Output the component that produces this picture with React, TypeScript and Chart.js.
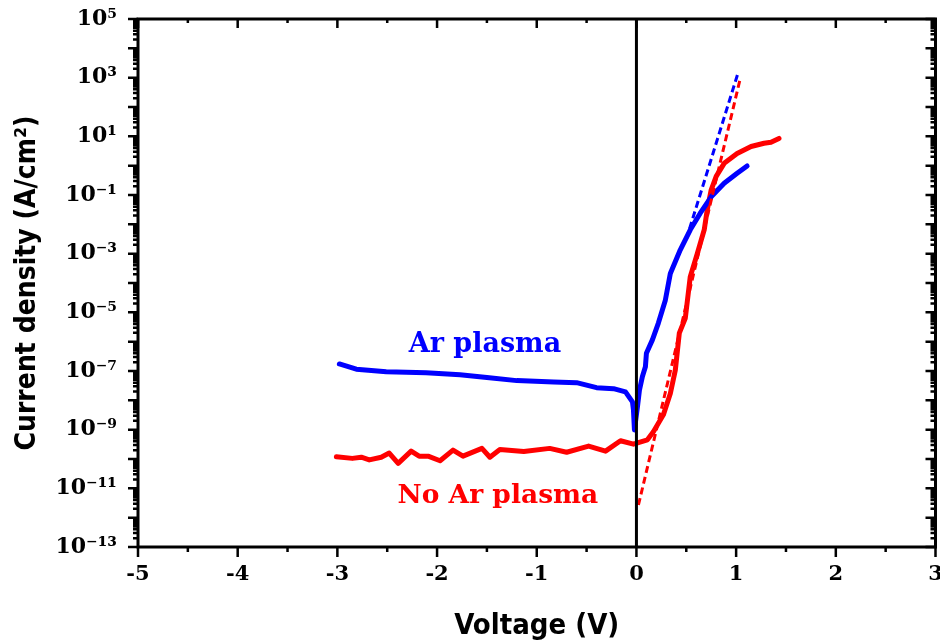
import React, { useEffect, useRef } from 'react';
import { Chart, registerables } from 'chart.js';

Chart.register(...registerables);

// Ar plasma (blue) — voltage (V) and current density (A/cm²)
const arV = [-2.98, -2.81, -2.51, -2.11, -1.77, -1.5, -1.2, -0.83, -0.6, -0.4, -0.23, -0.11, -0.04, -0.03, -0.02, 0.01, 0.03, 0.06, 0.09, 0.1, 0.16, 0.22, 0.26, 0.29, 0.34, 0.44, 0.54, 0.64, 0.75, 0.88, 1.01, 1.11];
const arJ = [1.74e-7, 1.15e-7, 9.5e-8, 8.7e-8, 7.4e-8, 6.0e-8, 4.7e-8, 4.2e-8, 4.0e-8, 2.7e-8, 2.5e-8, 1.95e-8, 8.9e-9, 4.7e-9, 9.8e-10, 6.0e-9, 2.2e-8, 6.5e-8, 1.4e-7, 4.0e-7, 1.15e-6, 4.3e-6, 1.2e-5, 2.6e-5, 2.1e-4, 1.35e-3, 6.5e-3, 0.024, 0.087, 0.25, 0.55, 0.98];

// No Ar plasma (red)
const noArV = [-3.01, -2.85, -2.76, -2.68, -2.56, -2.48, -2.39, -2.26, -2.18, -2.09, -1.97, -1.84, -1.74, -1.55, -1.47, -1.37, -1.13, -0.87, -0.7, -0.48, -0.31, -0.16, -0.03, 0.11, 0.17, 0.27, 0.34, 0.39, 0.43, 0.49, 0.54, 0.61, 0.68, 0.71, 0.75, 0.8, 0.88, 1.01, 1.15, 1.28, 1.35, 1.43];
const noArJ = [1.2e-10, 1.05e-10, 1.15e-10, 9.3e-11, 1.15e-10, 1.6e-10, 7.1e-11, 1.85e-10, 1.25e-10, 1.25e-10, 8.7e-11, 2.0e-10, 1.25e-10, 2.3e-10, 1.15e-10, 2.1e-10, 1.8e-10, 2.3e-10, 1.7e-10, 2.75e-10, 1.85e-10, 4.2e-10, 3.2e-10, 4.5e-10, 8.5e-10, 3.2e-9, 1.7e-8, 1.07e-7, 1.95e-6, 6.3e-6, 1.65e-4, 1.0e-3, 6.5e-3, 0.031, 0.15, 0.43, 1.2, 2.6, 4.5, 5.8, 6.3, 8.5];

// Linear (exponential) fits, dashed
const arFitV = [0.5, 1.02];
const arFitJ = [3.1e-3, 1.48e3];
const noArFitV = [0.02, 1.04];
const noArFitJ = [2.7e-12, 890];

// Zero-voltage reference line
const zeroV = [0, 0];
const zeroJ = [1e-13, 1e5];

// Axis ticks
const xTicks = [-5, -4, -3, -2, -1, 0, 1, 2, 3];
const xMinorTicks = [-4.5, -3.5, -2.5, -1.5, -0.5, 0.5, 1.5, 2.5];
const yTickExps = [5, 3, 1, -1, -3, -5, -7, -9, -11, -13];
const yDecadeExps = [-13, -12, -11, -10, -9, -8, -7, -6, -5, -4, -3, -2, -1, 0, 1, 2, 3, 4, 5];

// Annotations
const labels = [
  { text: 'Ar plasma', x: -1.52, y: 4.5e-7, color: '#0000ff', size: 27 },
  { text: 'No Ar plasma', x: -1.39, y: 3.2e-12, color: '#ff0000', size: 26.5 },
];

const SERIF = '"DejaVu Serif", serif';
const COND = '"DejaVu Sans Condensed", "DejaVu Sans", sans-serif';

const SUP: Record<string, string> = { '-': '⁻', '0': '⁰', '1': '¹', '2': '²', '3': '³', '4': '⁴', '5': '⁵', '6': '⁶', '7': '⁷', '8': '⁸', '9': '⁹' };
const sup = (n: number) => String(n).split('').map((c) => SUP[c] || c).join('');

const zip = (xs: number[], ys: number[]) => xs.map((x, i) => ({ x, y: ys[i] }));

const framePlugin = {
  id: 'frameTicks',
  afterDatasetsDraw(chart: any) {
    const { ctx, chartArea, scales } = chart;
    const { left, right, top, bottom } = chartArea;
    const xs = scales.x;
    const ys = scales.y;
    ctx.save();
    // annotations
    ctx.textAlign = 'center';
    ctx.textBaseline = 'alphabetic';
    labels.forEach((l) => {
      ctx.font = `bold ${l.size}px ${SERIF}`;
      ctx.fillStyle = l.color;
      ctx.fillText(l.text, xs.getPixelForValue(l.x), ys.getPixelForValue(l.y));
    });
    ctx.strokeStyle = '#000';
    ctx.lineWidth = 2.5;
    ctx.beginPath();
    // x ticks
    xTicks.forEach((v) => {
      const px = xs.getPixelForValue(v);
      ctx.moveTo(px, bottom); ctx.lineTo(px, bottom + 10);
      ctx.moveTo(px, top); ctx.lineTo(px, top + 9);
    });
    xMinorTicks.forEach((v) => {
      const px = xs.getPixelForValue(v);
      ctx.moveTo(px, bottom); ctx.lineTo(px, bottom + 5);
      ctx.moveTo(px, top); ctx.lineTo(px, top + 4);
    });
    // y ticks
    yDecadeExps.forEach((e) => {
      const py = ys.getPixelForValue(Math.pow(10, e));
      ctx.moveTo(left, py); ctx.lineTo(left - 10, py);
      ctx.moveTo(right, py); ctx.lineTo(right - 10, py);
      if (e < 5) {
        for (let m = 2; m <= 9; m++) {
          const pm = ys.getPixelForValue(m * Math.pow(10, e));
          ctx.moveTo(left, pm); ctx.lineTo(left - 5, pm);
          ctx.moveTo(right, pm); ctx.lineTo(right - 5, pm);
        }
      }
    });
    ctx.stroke();
    ctx.lineWidth = 3;
    ctx.strokeRect(left, top, right - left, bottom - top);
    ctx.restore();
  },
};

export default function App() {
  const ref = useRef<HTMLCanvasElement>(null);
  useEffect(() => {
    if (!ref.current) return;
    const chart = new Chart(ref.current, {
      type: 'scatter',
      data: {
        datasets: [
          { label: 'zero', data: zip(zeroV, zeroJ), showLine: true, borderColor: '#000', borderWidth: 3, pointRadius: 0, order: 0 },
          { label: 'Ar fit', data: zip(arFitV, arFitJ), showLine: true, borderColor: '#0000ff', borderWidth: 3, borderDash: [7, 4], pointRadius: 0, order: 1 },
          { label: 'No Ar fit', data: zip(noArFitV, noArFitJ), showLine: true, borderColor: '#ff0000', borderWidth: 3, borderDash: [7, 4], pointRadius: 0, order: 1 },
          { label: 'Ar plasma', data: zip(arV, arJ), showLine: true, borderColor: '#0000ff', borderWidth: 5, pointRadius: 0, borderJoinStyle: 'round', borderCapStyle: 'round', order: 2 },
          { label: 'No Ar plasma', data: zip(noArV, noArJ), showLine: true, borderColor: '#ff0000', borderWidth: 5, pointRadius: 0, borderJoinStyle: 'round', borderCapStyle: 'round', order: 3 },
        ],
      },
      options: {
        animation: false,
        responsive: true,
        maintainAspectRatio: false,
        layout: { padding: { top: 19, right: 4.5, left: 0, bottom: 0 } },
        plugins: { legend: { display: false }, tooltip: { enabled: false } },
        scales: {
          x: {
            type: 'linear',
            min: -5,
            max: 3,
            afterBuildTicks: (s: any) => { s.ticks = xTicks.map((v) => ({ value: v })); },
            afterFit: (s: any) => { s.height = 94; s.paddingLeft = 0; s.paddingRight = 0; },
            grid: { display: false, drawTicks: false },
            border: { display: false },
            ticks: { color: '#000', padding: 15, font: { family: SERIF, weight: 'bold', size: 21 }, callback: (v: any) => String(v) },
            title: { display: true, text: 'Voltage (V)', color: '#000', font: { family: COND, weight: 'bold', size: 29 }, padding: { top: 0, bottom: -3 } },
          },
          y: {
            type: 'logarithmic',
            min: 1e-13,
            max: 1e5,
            afterBuildTicks: (s: any) => { s.ticks = yTickExps.map((e) => ({ value: Math.pow(10, e) })); },
            afterFit: (s: any) => { s.width = 138; s.paddingTop = 0; s.paddingBottom = 0; },
            grid: { display: false, drawTicks: false },
            border: { display: false },
            ticks: { color: '#000', padding: 21, font: { family: SERIF, weight: 'bold', size: 22 }, callback: (v: any) => '10' + sup(Math.round(Math.log10(Number(v)))) },
            title: { display: true, text: 'Current density (A/cm²)', color: '#000', font: { family: COND, weight: 'bold', size: 28 }, padding: { top: 11, bottom: 0 } },
          },
        },
      },
      plugins: [framePlugin],
    } as any);
    return () => chart.destroy();
  }, []);
  return (
    <div style={{ position: 'fixed', left: 0, top: 0, width: 940, height: 641, background: '#fff' }}>
      <canvas ref={ref} />
    </div>
  );
}
